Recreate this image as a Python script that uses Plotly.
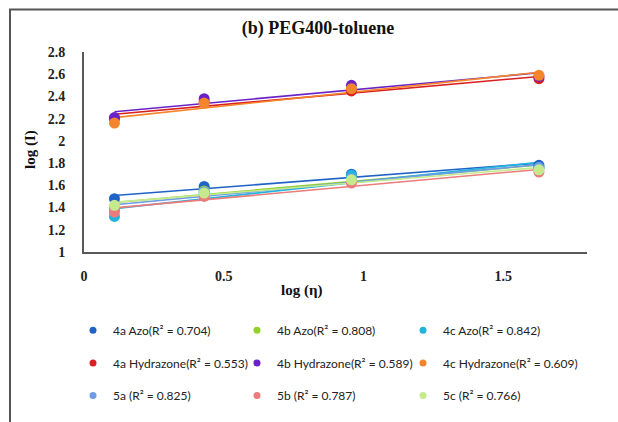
import numpy as np
import plotly.graph_objects as go

# log(viscosity) of the PEG400-toluene mixtures
log_eta = [0.109, 0.43, 0.957, 1.628]

series_names = [
    "4a Azo(R² = 0.704)", "4b Azo(R² = 0.808)", "4c Azo(R² = 0.842)",
    "4a Hydrazone(R² = 0.553)", "4b Hydrazone(R² = 0.589)", "4c Hydrazone(R² = 0.609)",
    "5a (R² = 0.825)", "5b (R² = 0.787)", "5c (R² = 0.766)",
]

# log(intensity) per compound
azo_4a = [1.48, 1.59, 1.70, 1.78]
azo_4b = [1.40, 1.55, 1.68, 1.75]
azo_4c = [1.32, 1.53, 1.69, 1.76]
hyd_4a = [2.20, 2.35, 2.45, 2.56]
hyd_4b = [2.21, 2.38, 2.50, 2.58]
hyd_4c = [2.16, 2.34, 2.47, 2.59]
cmp_5a = [1.38, 1.54, 1.66, 1.76]
cmp_5b = [1.36, 1.50, 1.62, 1.72]
cmp_5c = [1.42, 1.53, 1.65, 1.74]

series_values = [azo_4a, azo_4b, azo_4c, hyd_4a, hyd_4b, hyd_4c, cmp_5a, cmp_5b, cmp_5c]
colors = ["#1f63c6", "#92d02c", "#22b4df", "#d91f1f", "#6a22c8", "#f5852a",
          "#6e9ce6", "#ec7b7b", "#c5ea8e"]

W, H = 618, 422
L, R, T, B = 84, 31, 52, 168
pw, ph = W - L - R, H - T - B

def px_x(px):
    return (px - L) / pw

def px_y(py):
    return (H - B - py) / ph

# legend grid: three columns by three rows under the plot
legend_cols_px = [73, 237, 403]
legend_rows_px = [333, 366, 399]

fig = go.Figure()

# linear trendlines first, then the points on top
for name, vals, col in zip(series_names, series_values, colors):
    slope, icpt = np.polyfit(log_eta, vals, 1)
    xs = [log_eta[0], log_eta[-1]]
    fig.add_trace(go.Scatter(
        x=xs, y=[slope * v + icpt for v in xs], mode="lines",
        line=dict(color=col, width=1.6), showlegend=False, hoverinfo="skip",
    ))

legend_keys = []
for i, (name, vals, col) in enumerate(zip(series_names, series_values, colors)):
    key = "legend" if i == 0 else f"legend{i + 1}"
    legend_keys.append(key)
    fig.add_trace(go.Scatter(
        x=log_eta, y=vals, mode="markers", name=name, legendgroup=name,
        marker=dict(color=col, size=11), showlegend=False,
    ))
    # small legend swatch
    fig.add_trace(go.Scatter(
        x=[None], y=[None], mode="markers", name=name, legendgroup=name,
        marker=dict(color=col, size=7), legend=key, showlegend=True,
    ))

serif = "Liberation Serif, Times New Roman, serif"
tick_font = dict(family=serif, size=14, color="#222")
legend_font = dict(family="Lato, Roboto, sans-serif", size=12, color="#222")

legend_layout = {}
for i, key in enumerate(legend_keys):
    row, col = divmod(i, 3)
    legend_layout[key] = dict(
        x=px_x(legend_cols_px[col]), y=px_y(legend_rows_px[row]),
        xref="paper", yref="paper", xanchor="left", yanchor="middle",
        orientation="h", font=legend_font, bgcolor="rgba(0,0,0,0)", itemwidth=30,
    )

fig.update_layout(
    width=W, height=H,
    margin=dict(l=L, r=R, t=T, b=B),
    paper_bgcolor="white", plot_bgcolor="white",
    title=dict(text="<b>(b) PEG400-toluene</b>", x=318 / W, y=1 - 28 / H,
               xanchor="center", yanchor="middle",
               font=dict(family=serif, size=18, color="#111")),
    xaxis=dict(range=[0, 1.8], dtick=0.5, showgrid=False, zeroline=False,
               showline=True, linecolor="#595959", linewidth=2, ticks="",
               tickfont=tick_font, ticklabelstandoff=10, tickprefix="<b>", ticksuffix="</b>"),
    yaxis=dict(range=[1, 2.8], dtick=0.2, showgrid=False, zeroline=False,
               showline=True, linecolor="#595959", linewidth=2, ticks="",
               tickfont=tick_font, ticklabelstandoff=14, tickprefix="<b>", ticksuffix="</b>"),
    showlegend=True,
    **legend_layout,
)

axis_font = dict(family=serif, size=15, color="#111")
fig.add_annotation(text="<b>log (η)</b>", xref="paper", yref="paper",
                   x=px_x(301), y=px_y(293), xanchor="center", yanchor="middle",
                   showarrow=False, font=axis_font)
fig.add_annotation(text="<b>log (I)</b>", xref="paper", yref="paper",
                   x=px_x(30), y=px_y(151), xanchor="center", yanchor="middle",
                   showarrow=False, textangle=-90, font=axis_font)

# outer chart frame
fig.add_shape(type="rect", xref="paper", yref="paper",
              x0=px_x(10), x1=px_x(640), y0=px_y(440), y1=px_y(9),
              line=dict(color="#555", width=2), fillcolor="rgba(0,0,0,0)", layer="below")

fig.write_html("out.html")
